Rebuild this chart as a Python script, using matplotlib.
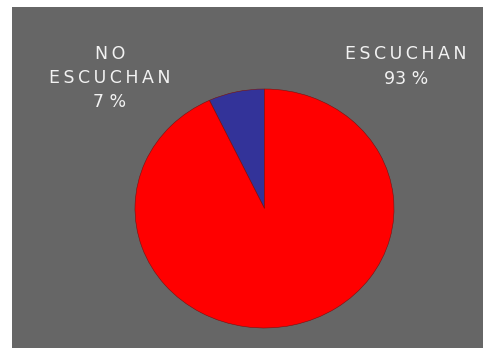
import matplotlib
matplotlib.use("Agg")
import matplotlib.pyplot as plt

labels = ["NO ESCUCHAN", "ESCUCHAN"]
values = [7, 93]
colors = ["#333399", "#FF0000"]

W, H = 483, 348
fig = plt.figure(figsize=(W / 100, H / 100), dpi=100)
fig.patch.set_facecolor("white")

# gray chart area behind everything
bg = fig.add_axes([12 / W, 0, 1 - 12 / W, 1 - 7 / H])
bg.set_facecolor("#666666")
bg.set_xticks([])
bg.set_yticks([])
for sp in bg.spines.values():
    sp.set_visible(False)

# axes sized so the pie fills it (slightly wider than tall)
ax = fig.add_axes([135 / W, 20 / H, 259 / W, 239 / H])
ax.pie(values, colors=colors, startangle=90, counterclock=True, radius=1,
       wedgeprops=dict(edgecolor="#7a1010", linewidth=0.4))
ax.set_aspect("auto")
ax.set_xlim(-1, 1)
ax.set_ylim(-1, 1)
ax.axis("off")


def spaced(s):
    return "\u2009".join(s)


txt = dict(color="#f2f2f2", fontsize=12.5, family="DejaVu Sans",
           ha="center", va="center", transform=fig.transFigure)
fig.text(110 / W, 1 - 54 / H, spaced("NO"), **txt)
fig.text(110 / W, 1 - 78 / H, spaced("ESCUCHAN"), **txt)
fig.text(110 / W, 1 - 102 / H, f"{values[0]} %", **txt)
fig.text(406 / W, 1 - 54 / H, spaced("ESCUCHAN"), **txt)
fig.text(406 / W, 1 - 79 / H, f"{values[1]} %", **txt)

fig.savefig("out.png", dpi=100)
